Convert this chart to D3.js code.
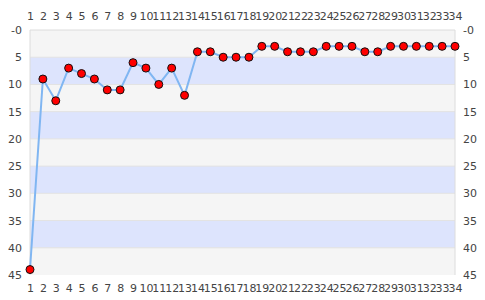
<!DOCTYPE html>
<html>
<head>
<meta charset="utf-8">
<script src="https://cdn.jsdelivr.net/npm/d3@7"></script>
<style>
  body { margin: 0; background: #fff; }
  svg text { font-family: "DejaVu Sans", sans-serif; font-size: 11px; fill: #444; }
</style>
</head>
<body>
<svg id="chart" width="485" height="300"></svg>
<script>
const rounds = d3.range(1, 35);
const positions = [44, 9, 13, 7, 8, 9, 11, 11, 6, 7, 10, 7, 12, 4, 4, 5, 5, 5,
  3, 3, 4, 4, 4, 3, 3, 3, 4, 4, 3, 3, 3, 3, 3, 3];
const yTicks = [0, 5, 10, 15, 20, 25, 30, 35, 40, 45];
const bandColors = ['#f5f5f5', '#dde4fd'];

const svg = d3.select('#chart');
const margin = { top: 30, right: 30, bottom: 25, left: 30 };
const width = +svg.attr('width') - margin.left - margin.right;
const height = +svg.attr('height') - margin.top - margin.bottom;
const g = svg.append('g').attr('transform', `translate(${margin.left},${margin.top})`);

const x = d3.scaleLinear().domain([1, 34]).range([0, width]);
const y = d3.scaleLinear().domain([0, 45]).range([0, height]);

// alternating bands
const bands = d3.pairs(yTicks);
g.selectAll('rect.band')
  .data(bands)
  .enter().append('rect')
  .attr('class', 'band')
  .attr('x', 0)
  .attr('width', width)
  .attr('y', d => y(d[0]))
  .attr('height', d => y(d[1]) - y(d[0]))
  .attr('fill', (d, i) => bandColors[i % 2]);

g.selectAll('line.grid')
  .data(yTicks.slice(1, -1))
  .enter().append('line')
  .attr('class', 'grid')
  .attr('x1', 0).attr('x2', width)
  .attr('y1', d => y(d)).attr('y2', d => y(d))
  .attr('stroke', '#e2e2e2');

// frame
g.append('path')
  .attr('d', `M0,${height}V0H${width}V${height}`)
  .attr('fill', 'none')
  .attr('stroke', '#dcdcdc');

// axes
function styleAxis(sel) {
  sel.select('.domain').remove();
  sel.selectAll('.tick line').remove();
}
g.append('g').call(d3.axisTop(x).tickValues(rounds).tickFormat(d3.format('d')).tickSize(0).tickPadding(10))
  .call(styleAxis);
g.append('g').attr('transform', `translate(0,${height})`)
  .call(d3.axisBottom(x).tickValues(rounds).tickFormat(d3.format('d')).tickSize(0).tickPadding(9))
  .call(styleAxis);
const yFmt = d => d === 0 ? '-0' : d;
g.append('g').call(d3.axisLeft(y).tickValues(yTicks).tickFormat(yFmt).tickSize(0).tickPadding(8))
  .call(styleAxis);
g.append('g').attr('transform', `translate(${width},0)`)
  .call(d3.axisRight(y).tickValues(yTicks).tickFormat(yFmt).tickSize(0).tickPadding(8))
  .call(styleAxis);
g.selectAll('.tick text').attr('fill', '#444').style('font-family', '"DejaVu Sans", sans-serif').style('font-size', '11px');

// line and markers
const line = d3.line().x((d, i) => x(rounds[i])).y(d => y(d));
g.append('path')
  .datum(positions)
  .attr('d', line)
  .attr('fill', 'none')
  .attr('stroke', '#80b6f2')
  .attr('stroke-width', 2);

g.selectAll('circle')
  .data(positions)
  .enter().append('circle')
  .attr('cx', (d, i) => x(rounds[i]))
  .attr('cy', d => y(d))
  .attr('r', 4)
  .attr('fill', '#ff0000')
  .attr('stroke', '#111')
  .attr('stroke-width', 1);
</script>
</body>
</html>
